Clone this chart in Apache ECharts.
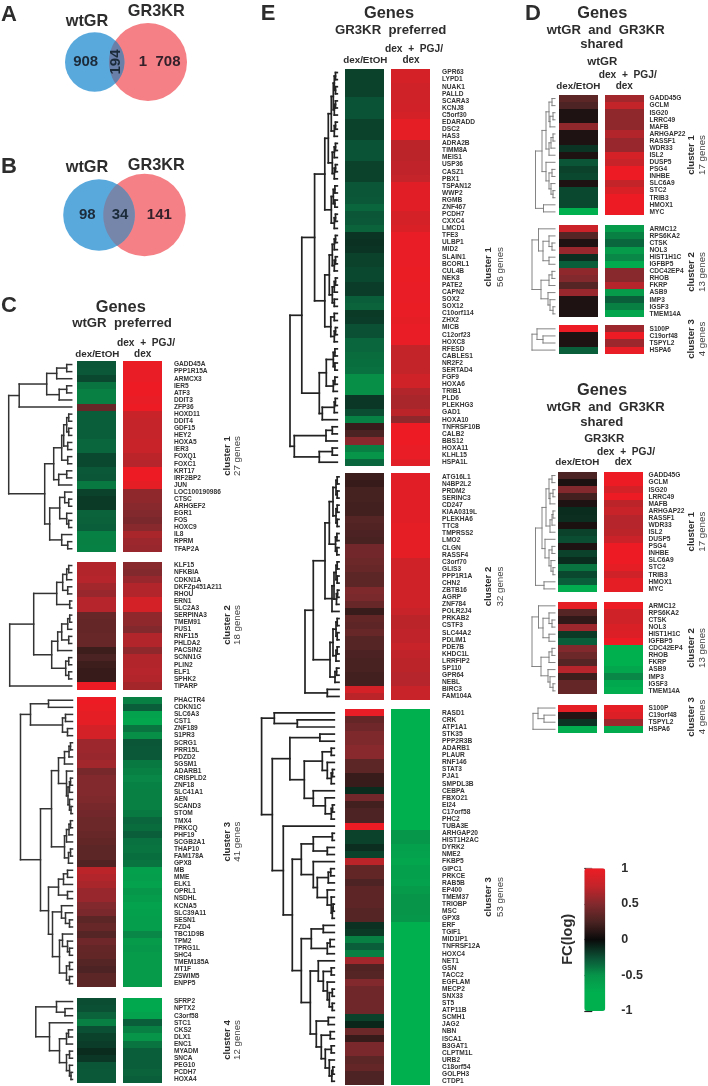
<!DOCTYPE html>
<html><head><meta charset="utf-8">
<style>html,body{margin:0;padding:0;background:#fff}#c{width:708px;height:1086px}</style>
<script src="https://cdn.jsdelivr.net/npm/echarts@6/dist/echarts.min.js"></script>
</head><body><div id="c"></div>
<script>
// ---------- Venn counts ----------
const vennA = [908, 194, 1708];
const vennB = [98, 34, 141];
// ---------- Panel C ----------
const genesC1 = ['GADD45A','PPP1R15A','ARMCX3','IER5','ATF3','DDIT3','ZFP36','HOXD11','DDIT4','GDF15','HEY2','HOXA5','IER3','FOXQ1','FOXC1','KRT17','IRF2BP2','JUN','LOC100190986','CTSC','ARHGEF2','EGR1','FOS','HOXC9','IL8','RPRM','TFAP2A'];
const c1a = [-.27,-.28,-.22,-.38,-.42,-.42,.38,-.3,-.3,-.3,-.3,-.33,-.33,-.22,-.22,-.28,-.27,-.4,-.2,-.17,-.17,-.32,-.31,-.3,-.43,-.42,-.43];
const c1b = [.98,.97,.97,1,1,.97,1,.78,.76,.76,.76,.78,.78,.72,.7,1,1,.95,.55,.55,.52,.5,.47,.52,.65,.6,.58];
const genesC2 = ['KLF15','NFKBIA','CDKN1A','DKFZp451A211','RHOU','ERN1','SLC2A3','SERPINA3','TMEM91','PUS1','RNF115','PHLDA2','PACSIN2','SCNN1G','PLIN2','ELF1','SPHK2','TIPARP'];
const c2a = [.68,.68,.7,.62,.58,.7,.7,.38,.37,.37,.38,.38,.2,.25,.2,.17,.17,1];
const c2b = [.52,.5,.58,.68,.68,.85,.85,.55,.55,.5,.68,.68,.55,.68,.68,.7,.68,.63];
const genesC3 = ['PHACTR4','CDKN1C','SLC6A3','CST1','ZNF189','S1PR3','SCRG1','PRR15L','PDZD2','SGSM1','ADARB1','CRISPLD2','ZNF18','SLC41A1','AEN','SCAND3','STOM','TMX4','PRKCQ','PHF19','SCGB2A1','THAP10','FAM178A','GPX8','MB','MME','ELK1','OPRL1','NSDHL','KCNA5','SLC39A11','SESN1','FZD4','TBC1D9B','TPM2','TPRG1L','SHC4','TMEM185A','MT1F','ZSWIM5','ENPP5'];
const c3a = [1,.98,.95,.95,.85,.85,.6,.6,.58,.62,.45,.5,.5,.5,.48,.45,.43,.4,.4,.38,.36,.33,.33,.28,.72,.68,.65,.58,.58,.5,.47,.33,.38,.3,.42,.37,.36,.3,.27,.33,.33];
const c3b = [-.42,-.3,-.62,-.65,-.38,-.48,-.27,-.28,-.28,-.4,-.42,-.45,-.43,-.42,-.42,-.42,-.4,-.33,-.35,-.3,-.37,-.38,-.36,-.38,-.6,-.58,-.62,-.52,-.57,-.62,-.6,-.58,-.58,-.45,-.55,-.52,-.55,-.55,-.55,-.55,-.55];
const genesC4 = ['SFRP2','NPTX2','C3orf58','STC1','CKS2','DLX1','ENC1','MYADM','SNCA','PEG10','PCDH7','HOXA4'];
const c4a = [-.24,-.25,-.32,-.42,-.25,-.2,-.18,-.12,-.16,-.27,-.28,-.28];
const c4b = [-.68,-.68,-.62,-.3,-.42,-.5,-.38,-.3,-.3,-.3,-.32,-.3];
// ---------- Panel E ----------
const genesE1 = ['GPR63','LYPD1','NUAK1','PALLD','SCARA3','KCNJ8','C5orf30','EDARADD','DSC2','HAS3','ADRA2B','TIMM8A','MEIS1','USP36','CASZ1','PBX1','TSPAN12','WWP2','RGMB','ZNF467','PCDH7','CXXC4','LMCD1','TFE3','ULBP1','MID2','SLAIN1','BCORL1','CUL4B','NEK8','PATE2','CAPN2','SOX2','SOX12','C10orf114','ZHX2','MICB','C12orf23','HOXC8','RFESD','CABLES1','NR2F2','SERTAD4','FGF9','HOXA6','TRIB1','PLD6','PLEKHG3','GAD1','HOXA10','TNFRSF10B','CALB2','BBS12','HOXA11','KLHL15','HSPA1L'];
const e1a = [-.2,-.2,-.2,-.2,-.26,-.26,-.26,-.2,-.2,-.2,-.26,-.26,-.26,-.2,-.2,-.2,-.27,-.27,-.28,-.33,-.27,-.28,-.32,-.15,-.14,-.15,-.2,-.2,-.22,-.22,-.18,-.18,-.3,-.32,-.17,-.18,-.25,-.25,-.33,-.33,-.35,-.36,-.37,-.48,-.48,-.48,-.16,-.16,-.24,-.43,.18,.25,.52,-.42,-.5,-.33];
const e1b = [.85,.85,.82,.82,.82,.83,.85,.95,.95,.95,.72,.72,.72,.74,.74,.76,.93,.93,.93,.93,.85,.85,.88,.97,.97,.97,.97,.97,.98,.98,.97,.97,.97,.98,.97,.95,.97,.97,.97,.75,.75,.75,.75,.82,.82,.68,.65,.65,.72,.55,1,1,1,.97,.97,.92];
const genesE2 = ['ATG16L1','N4BP2L2','PRDM2','SERINC3','CD247','KIAA0319L','PLEKHA6','TTC8','TMPRSS2','LMO2','CLGN','RASSF4','C3orf70','GLIS3','PPP1R1A','CHN2','ZBTB16','AGRP','ZNF784','POLR2J4','PRKAB2','CSTF3','SLC44A2','PDLIM1','PDE7B','KHDC1L','LRRFIP2','SP110','GPR64','NEBL','BIRC3','FAM104A'];
const e2a = [.2,.17,.23,.23,.22,.22,.3,.28,.26,.24,.43,.43,.4,.38,.33,.33,.48,.46,.38,.18,.36,.34,.38,.3,.3,.26,.24,.24,.22,.22,.85,.72];
const e2b = [.93,.93,.93,.93,.93,.93,.93,.95,.95,.95,.95,.95,.82,.82,.82,.82,.82,.82,.82,.78,.72,.72,.74,.74,.78,.74,.72,.72,.7,.7,.78,.78];
const genesE3 = ['RASD1','CRK','ATP1A1','STK35','PPP2R3B','ADARB1','PLAUR','RNF146','STAT3','PJA1','SMPDL3B','CEBPA','FBXO21','EI24','C17orf58','PHC2','TUBA3E','ARHGAP20','HIST1H2AC','DYRK2','NME2','FKBP5','GIPC1','PRKCE','RAB5B','EP400','TMEM37','TRIOBP','MSC','GPX8','ERF','TGIF1','MID1IP1','TNFRSF12A','HOXC4','NET1','GSN','TACC2','EGFLAM','MECP2','SNX33','ST5','ATP11B','SCMH1','JAG2','NBN','ISCA1','B3GAT1','CLPTM1L','URB2','C18orf54','GOLPH3','CTDP1'];
const e3a = [.97,.37,.42,.48,.48,.52,.52,.33,.33,.18,.18,-.12,.43,.22,.27,.27,1,-.2,-.2,-.13,-.2,.72,.36,.36,.27,.34,.34,.34,.3,.3,-.14,-.17,-.42,-.3,-.42,.62,.28,.3,.5,.42,.42,.42,.42,-.2,-.1,.4,.17,.47,.47,.33,.37,.27,.27];
const e3b = [-.75,-.75,-.75,-.75,-.75,-.75,-.75,-.75,-.75,-.75,-.75,-.75,-.75,-.75,-.75,-.75,-.75,-.52,-.52,-.6,-.62,-.65,-.6,-.6,-.62,-.55,-.5,-.5,-.5,-.52,-.75,-.75,-.75,-.75,-.75,-.75,-.75,-.75,-.75,-.75,-.75,-.75,-.75,-.75,-.75,-.75,-.75,-.75,-.75,-.75,-.75,-.75,-.75];
// ---------- Panel D ----------
const genesD1 = ['GADD45G','GCLM','ISG20','LRRC49','MAFB','ARHGAP22','RASSF1','WDR33','ISL2','DUSP5','PSG4','INHBE','SLC6A9','STC2','TRIB3','HMOX1','MYC'];
const genesD2 = ['ARMC12','RPS6KA2','CTSK','NOL3','HIST1H1C','IGFBP5','CDC42EP4','RHOB','FKRP','ASB9','IMP3','IGSF3','TMEM14A'];
const genesD3 = ['S100P','C19orf48','TSPYL2','HSPA6'];
const d1a = [.33,.27,.08,.08,.55,.08,.08,-.15,.08,-.27,-.2,-.22,.08,-.22,-.22,-.22,-.75];
const d1b = [.62,.75,.55,.55,.55,.68,.58,.58,.85,.78,1,1,.75,.88,1,1,1];
const d2a = [.8,.3,.08,.58,-.13,-.3,.55,.5,.3,.58,.08,.08,.08];
const d2b = [-.55,-.42,-.33,-.55,-.45,-.7,.52,.52,.7,-.55,-.3,-.42,-.65];
const d3a = [1,.08,.08,-.3];
const d3b = [.6,1,.6,.97];
const g1a = [.25,.07,.5,.22,.08,-.12,-.13,.07,-.2,-.24,.08,-.2,-.12,-.38,-.22,-.3,-.72];
const g1b = [1,1,.85,1,.72,.78,.7,.7,.72,.8,1,1,1,.95,.82,.95,.95];
const g2a = [.95,.3,.15,.6,-.17,-.3,.5,.4,.3,.7,.2,.37,.37];
const g2b = [1,.82,.82,.88,.9,1,-.75,-.75,-.75,-.65,-.45,-.68,-.72];
const g3a = [.95,.1,-.15,-.72];
const g3b = [.95,.9,.6,-.7];
// ---------- Dendrograms: [mergeHeight, childA, childB], 0 = gene ----------
const pair = h => [h,0,0];
const tri = h => [h,pair(h*.6),0];
const quad = h => [h,pair(h*.6),pair(h*.6)];
const treeC1 = [63,[52.5,[25,[15,pair(5),0],[12.5,pair(5),0]],0],[27,[18,[10,[8,[5,pair(3),pair(3)],pair(4)],pair(4)],[13,pair(5),0]],[22,[12,[7,0,pair(3)],[5,0,pair(3)]],[10,0,pair(4)]]]];
const treeC2 = [62,[38,[15,[9,[5,pair(3),0],pair(4)],pair(2)],[20,[14,[10,[4,pair(2),0],pair(3)],0],[6,pair(3),pair(3)]]],0];
const treeC3 = [52,[42,pair(24),[10,pair(7),pair(5)]],[32,[21,[14,[8,[3.5,pair(2),0],0],[6,0,[4.5,[3,pair(2),0],[3,0,pair(1.5)]]]],[8,[6,[3.5,pair(2),0],0],[4,pair(2),0]]],[24,[14,[9,pair(5),0],pair(5)],[20,[11,0,[7,0,pair(3)]],[13,[10,0,[5,0,pair(3)]],[6,pair(3),pair(3)]]]]]];
const treeC4 = [36.7,[16,0,pair(7.5)],[23,0,[13,[6,pair(4),0],[6,pair(3),[3,0,pair(1.5)]]]]];
const treeE1 = [47.3,[35.5,[22.7,[12.5,[9,[6,[4,quad(3),tri(3)],tri(3)],[5,tri(3),tri(3)]],[6,quad(4),tri(3)]],[12.5,[8,[5,tri(3),tri(3)],[5,tri(3),pair(3)]],[6.5,pair(3),tri(3)]]],[18,[11,quad(4),tri(4)],[15,[3,pair(2),0],0]]],[43,[11.3,pair(5),0],[18,pair(5),0]]];
const treeE2 = [34,[25.7,[14,[9.7,[6,quad(3),quad(3)],quad(3.5)],[7,[5,quad(3),tri(2.5)],0]],[9,[6,quad(3),tri(3)],tri(4)]],pair(11.7)];
const treeE3 = [72.7,[60,0,pair(37)],[62,[44.4,pair(14.4),[30,[12,pair(3),[7,0,tri(3)]],[21,0,[9,0,tri(3)]]]],[51,0,[42,[33,[21,pair(2),pair(7)],[21,0,[17,tri(6),[7,0,[3,0,tri(2)]]]]],[33,[23,pair(11),tri(7)],[24,[16,0,[11,pair(3),[7,0,[5,pair(2),pair(2)]]]],[18,pair(6),[13,pair(4),[9,pair(3),[5,0,tri(2.5)]]]]]]]]]];
const treeD1 = [19.5,[13,[9,[6,pair(3),[5,pair(2),0]],[6,[4,pair(2),0],0]],[9,0,[6,pair(3),[4,0,pair(2)]]]],pair(11.5)];
const treeD2 = [23,[16.5,0,[12,[6,0,pair(3)],pair(6)]],[14,[6,pair(3),0],[7,0,[5,0,pair(2)]]]];
const treeD3 = [23,[18,0,pair(12)],0];
const treeG1 = [19.5,[13,[9,[6,pair(3),[5,pair(2),0]],[5,[3,pair(2),0],0]],[10,0,[6,pair(3),[4,0,pair(2)]]]],pair(11)];
const treeG2 = [23,[16.5,0,[12,[6,0,pair(3)],pair(6)]],[14,[6,pair(3),0],[7,0,[5,0,pair(2)]]]];
const treeG3 = [22,[17,0,pair(11)],0];
// ---------- Colour scale ----------
const scaleStops = ['#00b04f','#00b04f','#07954a','#0b5035','#0a0a0a','#4a2322','#82292d','#c3242a','#ed1c24'];
const scaleTicks = [-1,-0.5,0,0.5,1];

const ROW = 7.085, INK = '#2d2d2d', FONT = '"Liberation Sans",Arial,sans-serif';
const grids=[], xAxes=[], yAxes=[], series=[], heatIdx=[];
const C = {c1:77,c2:123,w:38.5,m:12.4,lw:1.5,lc:'#333'};
const E = {c1:345.3,c2:391.3,w:38.8,m:12,lw:1.7,lc:'#222'};
const D = {c1:558.7,c2:604.7,w:38.8,m:6,lw:.9,lc:'#777'};
const G = {c1:557.7,c2:603.7,w:38.8,m:6,lw:.9,lc:'#777'};

function addGrid(left,top,width,height,x,y){
  grids.push({left,top,width,height,containLabel:false});
  xAxes.push(Object.assign({gridIndex:grids.length-1},x));
  yAxes.push(Object.assign({gridIndex:grids.length-1},y));
  return grids.length-1;
}
function heatColumn(left,top,w,genes,vals,name,labelMargin){
  const h=genes.length*ROW;
  const i=addGrid(left,top,w,h,{type:'category',data:[name],show:false},
    {type:'category',data:genes,inverse:true,position:'right',show:labelMargin!=null,
     axisLine:{show:false},axisTick:{show:false},
     axisLabel:{show:labelMargin!=null,interval:0,margin:labelMargin||0,fontFamily:FONT,fontSize:6.6,fontWeight:'bold',color:'#333'}});
  heatIdx.push(series.length);
  // cells snapped to whole pixels so adjacent rows leave no seam
  series.push({type:'custom',xAxisIndex:i,yAxisIndex:i,data:vals.map((v,k)=>[0,k,v]),silent:true,
    encode:{x:0,y:1},clip:false,
    renderItem:(p,api)=>{
      const c=api.coord([api.value(0),api.value(1)]),s=api.size([1,1]);
      const y0=Math.round(c[1]-s[1]/2),y1=Math.round(c[1]+s[1]/2);
      const x0=Math.round(c[0]-s[0]/2),x1=Math.round(c[0]+s[0]/2);
      return {type:'rect',shape:{x:x0,y:y0,width:x1-x0,height:y1-y0},style:{fill:api.visual('color')}};
    }});
}
function treeSegs(node,segs,next){
  if(node===0){return {h:0,y:next.i++ + .5};}
  const a=treeSegs(node[1],segs,next), b=treeSegs(node[2],segs,next), h=node[0];
  segs.push([h,a.y,h,b.y],[a.h,a.y,h,a.y],[b.h,b.y,h,b.y]);
  return {h,y:(a.y+b.y)/2};
}
function addDendro(tree,tip,top,n,st){
  const W=tree[0]+1,segs=[];
  treeSegs(tree,segs,{i:0});
  const i=addGrid(tip-W,top,W,n*ROW,{type:'value',min:0,max:W,inverse:true,show:false},
    {type:'value',min:0,max:n,inverse:true,show:false});
  series.push({type:'custom',xAxisIndex:i,yAxisIndex:i,data:segs,silent:true,clip:false,
    encode:{x:[0,2],y:[1,3]},
    renderItem:(p,api)=>{const a=api.coord([api.value(0),api.value(1)]),b=api.coord([api.value(2),api.value(3)]);
      return {type:'line',shape:{x1:a[0],y1:a[1],x2:b[0],y2:b[1]},style:{stroke:st.lc,lineWidth:st.lw,lineCap:'square'}};}});
}
function cluster(st,top,genes,a,b,tree,tip){
  if(genes.length!==a.length||genes.length!==b.length) throw new Error('len '+genes[0]+' '+genes.length+' '+a.length+' '+b.length);
  heatColumn(st.c1,top,st.w,genes,a,'dex/EtOH',null);
  heatColumn(st.c2,top,st.w,genes,b,'dex + PGJ/dex',st.m);
  addDendro(tree,tip,top,genes.length,st);
}
cluster(C,361,genesC1,c1a,c1b,treeC1,71.7);
cluster(C,562,genesC2,c2a,c2b,treeC2,71.7);
cluster(C,696.7,genesC3,c3a,c3b,treeC3,72.5);
cluster(C,998,genesC4,c4a,c4b,treeC4,72.5);
cluster(E,69,genesE1,e1a,e1b,treeE1,337.3);
cluster(E,473.3,genesE2,e2a,e2b,treeE2,339);
cluster(E,709.3,genesE3,e3a,e3b,treeE3,334.3);
cluster(D,95,genesD1,d1a,d1b,treeD1,555);
cluster(D,225.3,genesD2,d2a,d2b,treeD2,555);
cluster(D,325.3,genesD3,d3a,d3b,treeD3,555);
cluster(G,472,genesD1,g1a,g1b,treeG1,555);
cluster(G,602.3,genesD2,g2a,g2b,treeG2,555);
cluster(G,704.5,genesD3,g3a,g3b,treeG3,555);

// colour-bar axis
addGrid(584.3,868.3,21,142.7,{type:'value',show:false,min:0,max:1},
  {type:'value',min:-1,max:1,interval:.5,position:'right',splitLine:{show:false},axisLine:{show:false},
   axisTick:{show:true,length:8,lineStyle:{color:'#222',width:1.2}},
   axisLabel:{margin:16,fontFamily:FONT,fontSize:12.5,fontWeight:'bold',color:INK,
     formatter:v=>String(v)}});

// Venn diagrams
function lens(c1,r1,c2,r2,cy){
  const d=c2-c1,a=(d*d+r1*r1-r2*r2)/(2*d),hh=Math.sqrt(r1*r1-a*a),pts=[];
  const t1=Math.atan2(hh,a),t2=Math.atan2(hh,c1+a-c2);
  for(let i=0;i<=40;i++){const t=-t1+2*t1*i/40;pts.push([c1+r1*Math.cos(t),cy+r1*Math.sin(t)]);}
  for(let i=0;i<=40;i++){const t=t2+(2*Math.PI-2*t2)*i/40;pts.push([c2+r2*Math.cos(t),cy+r2*Math.sin(t)]);}
  return pts;
}
function venn(counts,k,cx1,cx2,cy,overlap){
  series.push({type:'custom',coordinateSystem:'none',silent:true,data:[counts],
    renderItem:(p,api)=>{
      const r1=k*Math.sqrt(api.value(0)+api.value(1)), r2=k*Math.sqrt(api.value(2)+api.value(1));
      return {type:'group',children:[
        {type:'circle',shape:{cx:cx2,cy,r:r2},style:{fill:'#f58085'}},
        {type:'circle',shape:{cx:cx1,cy,r:r1},style:{fill:'#5aa9dd'}},
        {type:'polygon',shape:{points:lens(cx1,r1,cx2,r2,cy)},style:{fill:overlap}}
      ]};}});
}
venn(vennA,.8947,94.7,148,62,'#6a7fa8');
venn(vennB,3.116,99,144.5,215,'#7686ab');

// Texts
const gfx=[];
function T(text,x,y,size,opts){opts=opts||{};
  gfx.push({type:'text',x,y,rotation:opts.rot||0,z:50,silent:true,
    style:{text,fill:opts.fill||INK,textAlign:'center',textVerticalAlign:'middle',textBaseline:'middle',
      font:(opts.normal?'':'bold ')+size+'px '+FONT}});
}
const R=Math.PI/2;
T('A',9,15,22);T('B',9,167,22);T('C',9,306,22);T('D',533,13.5,22);T('E',268,13.5,22);
T('wtGR',87,22,16.3);T('GR3KR',156.3,12,16.3);
T(String(vennA[0]),85.7,62,15,{fill:'#1c2b3a'});T(String(vennA[1]),116.3,62,15,{rot:R,fill:'#1c2b3a'});T('1',143,62,15,{fill:'#33202a'});T('708',168,62,15,{fill:'#33202a'});
T('wtGR',87,168,16.3);T('GR3KR',156.3,165.7,16.3);
T(String(vennB[0]),87.3,215,15,{fill:'#1c2b3a'});T(String(vennB[1]),120,215,15,{fill:'#1c2b3a'});T(String(vennB[2]),159.3,215,15,{fill:'#33202a'});
// C
T('Genes',120.7,307,16.4);T('wtGR  preferred',122,323,13.2);
T('dex  +  PGJ/',146,342.7,10.2);T('dex/EtOH',97.3,354,9.8);T('dex',142.7,354,10);
// E
T('Genes',389,13.3,16.4);T('GR3KR  preferred',390.7,30.3,13.2);
T('dex  +  PGJ/',414,49.3,10.2);T('dex/EtOH',365.3,60.3,9.8);T('dex',411,60.3,10);
// D top
T('Genes',602.3,13.7,16.4);T('wtGR  and  GR3KR',605.7,30,13.1);T('shared',601.7,44.3,13.1);T('wtGR',602.3,62.3,11.5);
T('dex  +  PGJ/',627.7,75,10.2);T('dex/EtOH',578.3,86,9.8);T('dex',624.3,86,10);
// D bottom
T('Genes',602,390.7,16.4);T('wtGR  and  GR3KR',605.7,407,13.1);T('shared',601.7,422.3,13.1);T('GR3KR',604.3,438.7,11.5);
T('dex  +  PGJ/',626,451.7,10.2);T('dex/EtOH',577.3,462.7,9.8);T('dex',623.3,462.7,10);
// Cluster labels
function CL(name,count,x1,x2,y){T(name,x1,y,9.6,{rot:R});T(count,x2,y,9.7,{rot:R,normal:true,fill:'#444'});}
CL('cluster 1','27 genes',227,237.5,456);CL('cluster 2','18 genes',227,237.5,625);CL('cluster 3','41 genes',227,237.5,841.7);CL('cluster 4','12 genes',227,237.5,1040);
CL('cluster 1','56 genes',488,500,267);CL('cluster 2','32 genes',488,500,586.5);CL('cluster 3','53 genes',488,500,897);
CL('cluster 1','17 genes',691,702,155);CL('cluster 2','13 genes',691,702,272);CL('cluster 3','4 genes',691,702,339);
CL('cluster 1','17 genes',691,702,531.7);CL('cluster 2','13 genes',691,702,648);CL('cluster 3','4 genes',691,702,717);
T('FC(log)',568.3,939.3,14.6,{rot:R});

const chart=echarts.init(document.getElementById('c'),null,{renderer:'canvas'});
chart.setOption({animation:false,backgroundColor:'#fff',tooltip:{show:false},
  grid:grids,xAxis:xAxes,yAxis:yAxes,series,graphic:{elements:gfx},
  visualMap:{type:'continuous',min:-1,max:1,seriesIndex:heatIdx,dimension:2,inRange:{color:scaleStops},
    show:true,calculable:false,realtime:false,hoverLink:false,text:null,padding:0,
    left:584.3,top:868.3,itemWidth:21,itemHeight:142.7,orient:'vertical',textStyle:{fontSize:0}}});
</script></body></html>
